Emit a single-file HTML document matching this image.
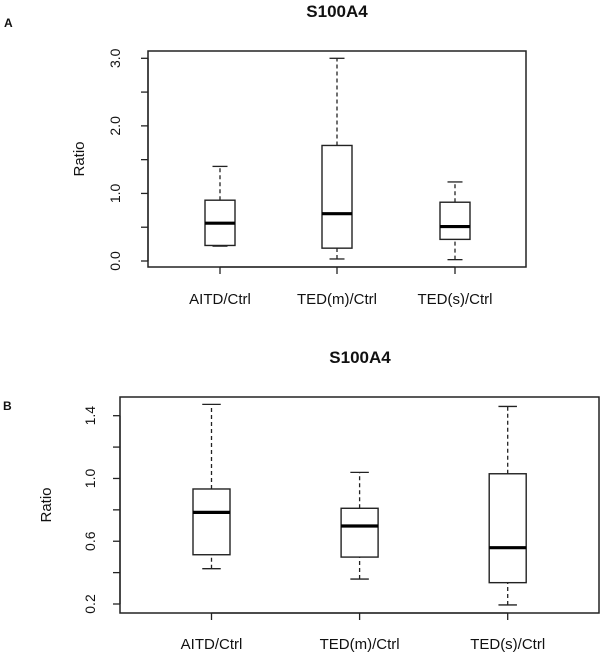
<!DOCTYPE html>
<html><head><meta charset="utf-8"><style>
body{margin:0;background:#fff;}
svg text{font-family:"Liberation Sans",Arial,sans-serif;fill:#111;}
</style></head><body>
<svg id="svg" width="600" height="656" xmlns="http://www.w3.org/2000/svg"></svg>
<script>
const categories = ["AITD/Ctrl","TED(m)/Ctrl","TED(s)/Ctrl"];
// chart A: [lower whisker, q1, median, q3, upper whisker]
const statsA = [[0.22,0.23,0.56,0.90,1.40],[0.03,0.19,0.70,1.71,3.00],[0.02,0.32,0.51,0.87,1.17]];
const ticksA = [0,0.5,1,1.5,2,2.5,3];
const tickLabelsA = ["0.0","","1.0","","2.0","","3.0"];
// chart B
const statsB = [[0.425,0.514,0.784,0.933,1.472],[0.359,0.499,0.697,0.81,1.039],[0.194,0.336,0.559,1.03,1.459]];
const ticksB = [0.2,0.4,0.6,0.8,1.0,1.2,1.4];
const tickLabelsB = ["0.2","","0.6","","1.0","","1.4"];

const NS="http://www.w3.org/2000/svg";
const svg=document.getElementById('svg');
function mk(tag,attrs,parent){const e=document.createElementNS(NS,tag);for(const k in attrs)e.setAttribute(k,attrs[k]);(parent||svg).appendChild(e);return e;}

function drawChart(cfg,stats,ticks,tickLabels,name){
  const g=mk('g',{});
  
  
  const y=v=>cfg.y0+(v-cfg.v0)/(cfg.v1-cfg.v0)*(cfg.y1-cfg.y0);
  const frame=mk('rect',{x:cfg.bx0,y:cfg.by0,width:cfg.bx1-cfg.bx0,height:cfg.by1-cfg.by0,fill:'none',stroke:'#222','stroke-width':1.5},g);
  
  
  const t=mk('text',{x:cfg.titleX,y:cfg.titleY,'text-anchor':'middle','font-size':17,'font-weight':'bold'},g);
  t.textContent='S100A4';
  
  
  const p=mk('text',{x:cfg.panelX,y:cfg.panelY,'font-size':12,'font-weight':'bold'},g);
  p.textContent=cfg.panel;
  
  
  const yl=mk('text',{x:cfg.ylx,y:cfg.yly,'text-anchor':'middle','font-size':15,transform:`rotate(-90 ${cfg.ylx} ${cfg.yly})`},g);
  yl.textContent='Ratio';
  
  
  mk('line',{x1:cfg.bx0,x2:cfg.bx0,y1:y(ticks[0]),y2:y(ticks[ticks.length-1]),stroke:'#222','stroke-width':1.3},g);
  ticks.forEach((v,i)=>{
    mk('line',{x1:cfg.bx0-7,x2:cfg.bx0,y1:y(v),y2:y(v),stroke:'#222','stroke-width':1.3},g);
    if(tickLabels[i]){
      const tx=mk('text',{x:cfg.tlx,y:y(v),'text-anchor':'middle','dominant-baseline':'central','font-size':14,transform:`rotate(-90 ${cfg.tlx} ${y(v)})`},g);
      tx.textContent=tickLabels[i];
      
      
    }
  });
  mk('line',{x1:cfg.cx[0],x2:cfg.cx[2],y1:cfg.by1,y2:cfg.by1,stroke:'#222','stroke-width':1.3},g);
  stats.forEach((s,i)=>{
    const cx=cfg.cx[i],hw=cfg.hw;
    const bg=mk('g',{},g);
    
    
    mk('line',{x1:cx,x2:cx,y1:cfg.by1,y2:cfg.by1+7,stroke:'#222','stroke-width':1.3},bg);
    mk('line',{x1:cx,x2:cx,y1:y(s[0]),y2:y(s[1]),stroke:'#222','stroke-width':1.3,'stroke-dasharray':'4,3'},bg);
    mk('line',{x1:cx,x2:cx,y1:y(s[3]),y2:y(s[4]),stroke:'#222','stroke-width':1.3,'stroke-dasharray':'4,3'},bg);
    mk('line',{x1:cx-hw/2,x2:cx+hw/2,y1:y(s[0]),y2:y(s[0]),stroke:'#222','stroke-width':1.3},bg);
    mk('line',{x1:cx-hw/2,x2:cx+hw/2,y1:y(s[4]),y2:y(s[4]),stroke:'#222','stroke-width':1.3},bg);
    mk('rect',{x:cx-hw,y:y(s[3]),width:2*hw,height:y(s[1])-y(s[3]),fill:'#fff',stroke:'#222','stroke-width':1.4},bg);
    mk('line',{x1:cx-hw,x2:cx+hw,y1:y(s[2]),y2:y(s[2]),stroke:'#000','stroke-width':3.2},bg);
    const cl=mk('text',{x:cx,y:cfg.catY,'text-anchor':'middle','font-size':15},g);
    cl.textContent=categories[i];
    
    
  });
}
drawChart({bx0:148,bx1:526,by0:51,by1:267,y0:261,y1:58.3,v0:0,v1:3,cx:[220,337,455],hw:15,
  titleX:337,titleY:17,panel:'A',panelX:4,panelY:27,ylx:84,yly:159,tlx:115,catY:304},statsA,ticksA,tickLabelsA,'chart-a');
drawChart({bx0:120,bx1:599,by0:397,by1:613,y0:604,y1:415.7,v0:0.2,v1:1.4,cx:[211.5,359.6,507.7],hw:18.5,
  titleX:360,titleY:363,panel:'B',panelX:3,panelY:410,ylx:51,yly:505,tlx:90,catY:649},statsB,ticksB,tickLabelsB,'chart-b');
</script>
</body></html>
